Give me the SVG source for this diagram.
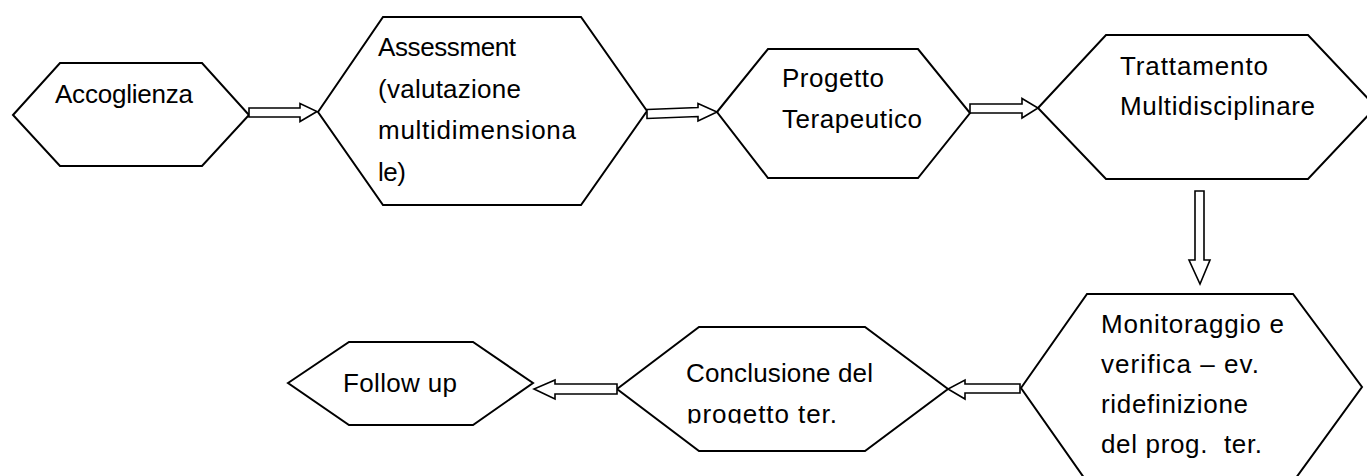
<svg xmlns="http://www.w3.org/2000/svg" width="1367" height="476" viewBox="0 0 1367 476">
<style>
.hex{fill:#fff;stroke:#000;stroke-width:2;stroke-linejoin:miter}
.arr{fill:#fff;stroke:#000;stroke-width:1.6;stroke-linejoin:miter}
text{font-family:"Liberation Sans",Arial,sans-serif;font-size:26px;fill:#000;white-space:pre}
</style>
<defs>
<clipPath id="clip6"><rect x="600" y="330" width="360" height="93.5"/></clipPath>
</defs>
<rect width="1367" height="476" fill="#fff"/>
<g id="node-accoglienza">
<polygon class="hex" points="13,115 60,63 202,63 249,115 202,166 60,166"/>
<text x="55" y="103" textLength="138">Accoglienza</text>
</g>
<g id="node-assessment">
<polygon class="hex" points="318,112 383,17 581,17 647,111 581,205 383,205"/>
<text x="378" y="56" textLength="138">Assessment</text>
<text x="378" y="97.5" textLength="143">(valutazione</text>
<text x="378" y="139" textLength="198">multidimensiona</text>
<text x="378" y="180.5" textLength="28">le)</text>
</g>
<g id="node-progetto">
<polygon class="hex" points="717,112 768,49 918,49 970,113 918,178 768,178"/>
<text x="782" y="87" textLength="102">Progetto</text>
<text x="782" y="128" textLength="140">Terapeutico</text>
</g>
<g id="node-trattamento">
<polygon class="hex" points="1038,108 1106,35 1308,35 1376,107 1308,179 1106,179"/>
<text x="1120" y="75" textLength="148">Trattamento</text>
<text x="1120" y="115" textLength="195">Multidisciplinare</text>
</g>
<g id="node-monitoraggio">
<polygon class="hex" points="1021,388 1087,294 1293,294 1362,387 1293,482 1087,482"/>
<text x="1101" y="333" textLength="183">Monitoraggio e</text>
<text x="1101" y="373" textLength="158">verifica – ev.</text>
<text x="1101" y="413" textLength="147">ridefinizione</text>
<text x="1101" y="453" textLength="161">del prog.  ter.</text>
</g>
<g id="node-conclusione">
<polygon class="hex" points="617,389 699,327 865,327 948,389 865,451 699,451"/>
<g clip-path="url(#clip6)">
<text x="686" y="382" textLength="187">Conclusione del</text>
<text x="687" y="423" textLength="150">progetto ter.</text>
</g>
</g>
<g id="node-followup">
<polygon class="hex" points="288,383 349,342 473,342 533,383 473,425 349,425"/>
<text x="343" y="392" textLength="114">Follow up</text>
</g>
<g id="connectors">
<polygon class="arr" points="249,108 300,108 300,103.5 317,111.5 300,121.5 300,117 249,117"/>
<polygon class="arr" points="647,109.5 698,107.5 698,103.5 717,112 698,121 698,116.5 647,118.5"/>
<polygon class="arr" points="970,104 1022,104 1022,98.5 1038,108 1022,118 1022,113 970,113"/>
<polygon class="arr" points="1195,191 1204,191 1204,260 1210,260 1200,284 1189,260 1195,260"/>
<polygon class="arr" points="1020,384 965,384 965,380 948,389 965,399 965,393 1020,393"/>
<polygon class="arr" points="617,384 555,384 555,380 534,389 555,399 555,394 617,394"/>
</g>
</svg>
